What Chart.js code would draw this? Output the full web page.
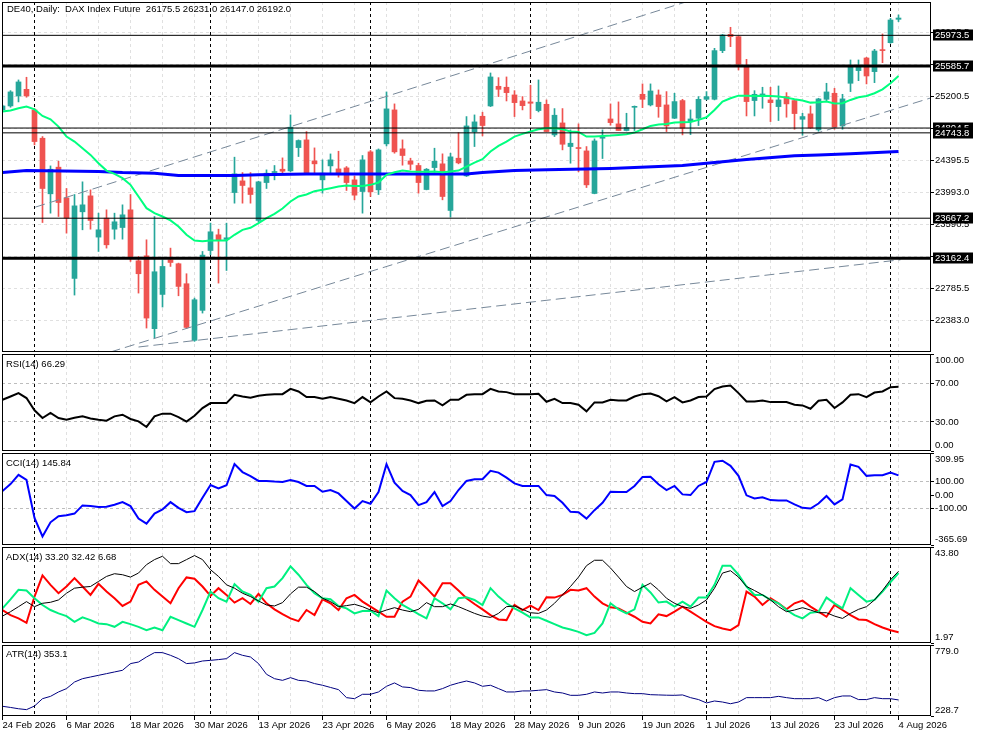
<!DOCTYPE html>
<html>
<head>
<meta charset="utf-8">
<title>DE40 Daily</title>
<script src="https://cdn.jsdelivr.net/npm/chart.js@4.4.1/dist/chart.umd.min.js"></script>
<style>
  html, body { margin: 0; padding: 0; background: #fff; }
  body { position: relative; width: 983px; height: 737px; overflow: hidden; }
  canvas { position: absolute; left: 0; }
  .cap { position: absolute; left: 6px; font: 9.5px "Liberation Sans", Arial, sans-serif; color: #000; white-space: pre; line-height: 12px; }
</style>
</head>
<body>
<canvas id="main" width="983" height="353" style="top:0px"></canvas>
<canvas id="rsi" width="983" height="99" style="top:353px"></canvas>
<canvas id="cci" width="983" height="94" style="top:452px"></canvas>
<canvas id="adx" width="983" height="98" style="top:546px"></canvas>
<canvas id="atr" width="983" height="93" style="top:644px"></canvas>
<div class="cap" style="left:7px;top:3px">DE40, Daily:  DAX Index Future  26175.5 26231.0 26147.0 26192.0</div>
<div class="cap" style="top:358px">RSI(14) 66.29</div>
<div class="cap" style="top:457px">CCI(14) 145.84</div>
<div class="cap" style="top:551px">ADX(14) 33.20 32.42 6.68</div>
<div class="cap" style="top:648px">ATR(14) 353.1</div>
<script>
// bar 0 = 24 Feb 2026, one bar per trading day, date label every 8 bars
const dateLabels = ['24 Feb 2026', '6 Mar 2026', '18 Mar 2026', '30 Mar 2026', '13 Apr 2026',
  '23 Apr 2026', '6 May 2026', '18 May 2026', '28 May 2026', '9 Jun 2026', '19 Jun 2026',
  '1 Jul 2026', '13 Jul 2026', '23 Jul 2026', '4 Aug 2026'];
const labelEvery = 8;
const gridEvery = 4;
const monthStarts = [4, 26, 46, 66, 88, 111];

const opens = [25033, 25083, 25209, 25293, 25033, 24676, 23975, 24311, 23924, 22908,
  23748, 23949, 23429, 23668, 23529, 23550, 23773, 23130, 23193, 22274,
  22706, 23143, 23093, 22841, 22127, 22505, 23260, 23458, 23400, 23991,
  24138, 24050, 23639, 24117, 24243, 24285, 24264, 24558, 24655, 24390,
  24151, 24327, 24289, 24302, 24151, 24004, 24504, 24025, 24605, 25033,
  24542, 24390, 24332, 24029, 24306, 24353, 23765, 24424, 24201, 24756,
  24953, 25083, 25331, 25319, 25222, 25146, 25134, 25025, 25104, 24718,
  24869, 24571, 24558, 24516, 23979, 24676, 24919, 24857, 24773, 25066,
  25230, 25096, 25222, 25096, 24928, 25151, 24886, 24928, 25167, 25167,
  25781, 25986, 25957, 25579, 25151, 25222, 25159, 25075, 25201, 25151,
  24915, 24983, 24781, 25167, 25243, 24831, 25369, 25529, 25688, 25516,
  25789, 25881, 26175.5];
const highs = [25095, 25276, 25411, 25445, 25050, 24697, 24327, 24386, 24042, 23966,
  24126, 24025, 23731, 23773, 23731, 23836, 23966, 23185, 23395, 23689,
  23143, 23290, 23101, 22967, 22660, 23248, 23605, 23529, 23605, 24437,
  24243, 24243, 24134, 24277, 24332, 24428, 24970, 24655, 24760, 24554,
  24403, 24478, 24512, 24319, 24201, 24458, 24521, 24541, 25260, 25109,
  24655, 24424, 24361, 24294, 24550, 24479, 24487, 24747, 24949, 24970,
  25004, 25499, 25440, 25449, 25276, 25201, 25344, 25411, 25159, 25050,
  25050, 24781, 24857, 24571, 24668, 24781, 25109, 25134, 24991, 25083,
  25361, 25361, 25285, 25264, 25243, 25167, 25033, 25201, 25264, 25810,
  25986, 26075, 25965, 25671, 25276, 25319, 25319, 25335, 25251, 25159,
  24991, 25083, 25180, 25369, 25306, 25230, 25663, 25663, 25697, 25797,
  25991, 26188, 26231];
const lows = [25010, 25067, 25134, 25193, 24592, 23613, 23731, 23689, 23479, 22698,
  23521, 23529, 23248, 23290, 23403, 23403, 23122, 22723, 22282, 22156,
  22547, 23059, 22689, 22274, 22114, 22471, 23206, 22849, 23008, 23857,
  23857, 23857, 23622, 24042, 24151, 24235, 24256, 24445, 24227, 24235,
  23983, 24235, 24185, 24017, 23899, 23731, 23941, 23966, 24579, 24487,
  24336, 24277, 23983, 24025, 24247, 23899, 23681, 24353, 24193, 24571,
  24705, 25075, 25201, 25146, 24949, 25033, 24924, 25008, 24756, 24697,
  24529, 24361, 24252, 24054, 23975, 24420, 24840, 24773, 24768, 24773,
  25062, 25083, 24940, 24760, 24924, 24718, 24722, 24836, 25159, 25159,
  25755, 25831, 25537, 24957, 24957, 25054, 24886, 24899, 24941, 24789,
  24714, 24798, 24764, 25138, 24789, 24789, 25264, 25402, 25361, 25377,
  25629, 25873, 26147];
const closes = [25083, 25260, 25386, 25209, 24634, 24042, 24285, 23865, 23668, 23823,
  23836, 23639, 23521, 23332, 23622, 23710, 23164, 22967, 22408, 22992,
  23059, 23109, 22807, 22290, 22639, 23202, 23496, 23395, 23420, 24227,
  24080, 23966, 24126, 24235, 24256, 24260, 24815, 24647, 24235, 24353,
  24235, 24403, 24235, 24117, 23958, 24403, 24000, 24529, 25046, 24504,
  24458, 24348, 24117, 24285, 24386, 23941, 24441, 24365, 24831, 24882,
  24836, 25449, 25293, 25251, 25125, 25087, 25117, 25130, 24760, 24966,
  24600, 24613, 24546, 24088, 24642, 24689, 24873, 24773, 24810, 25075,
  25167, 25272, 25075, 24831, 25138, 24802, 24919, 25167, 25201, 25781,
  25978, 25957, 25608, 25138, 25230, 25230, 25125, 25159, 25109, 24987,
  24949, 24806, 25172, 25260, 24815, 25172, 25587, 25579, 25461, 25776,
  25781, 26167, 26192];

// green moving average, one value per bar
const maFast = [25012, 25025, 25054, 25075, 25041, 24957, 24915, 24823, 24697, 24634,
  24550, 24466, 24361, 24268, 24226, 24172, 24088, 23941, 23794, 23731,
  23689, 23639, 23563, 23458, 23386, 23378, 23386, 23386, 23386, 23458,
  23521, 23546, 23605, 23668, 23723, 23790, 23878, 23941, 23966, 24008,
  24025, 24046, 24067, 24079, 24075, 24075, 24088, 24117, 24214, 24247,
  24268, 24256, 24252, 24252, 24256, 24247, 24256, 24268, 24319, 24369,
  24411, 24508, 24579, 24634, 24697, 24731, 24760, 24789, 24802, 24802,
  24789, 24760, 24756, 24697, 24697, 24705, 24710, 24718, 24726, 24747,
  24789, 24831, 24850, 24856, 24873, 24877, 24881, 24907, 24940, 25033,
  25138, 25180, 25213, 25213, 25209, 25213, 25209, 25201, 25188, 25167,
  25151, 25125, 25130, 25138, 25113, 25117, 25159, 25192, 25209, 25243,
  25293, 25369, 25461];
// blue moving average, read as [bar, price]
const maSlow = [[0, 24243], [3, 24268], [12, 24256], [15, 24243], [19, 24235], [22, 24205],
  [29, 24205], [32, 24214], [38, 24226], [47, 24226], [58, 24226], [60, 24243], [64, 24268],
  [68, 24277], [76, 24294], [82, 24319], [85, 24331], [89, 24369], [93, 24407], [99, 24455],
  [102, 24466], [106, 24479], [112, 24508]];

const levels = [25973.5, 25585.7, 24804.5, 24743.8, 23667.2, 23162.4];
const levelWidths = [1, 3, 1, 1, 1, 3];
// grey dashed trend lines, [bar, price] end points
const channels = [
  [[4.1, 23807], [85.4, 26394]],
  [[13.5, 21980], [116.06, 25185]],
  [[17, 22043], [112.25, 23143]]
];
const priceTicks = [26005.5, 25603.0, 25200.5, 24798.0, 24395.5, 23993.0, 23590.5, 23188.0, 22785.5, 22383.0];

const rsi = [52.8, 56.2, 59.7, 54.6, 42, 34, 39.2, 34, 32.3, 34.3,
  35.7, 33.6, 32.3, 31.3, 35.7, 37.4, 33, 30.6, 24.8, 35.7,
  38.5, 38.5, 35, 30.3, 36.4, 44.3, 49.4, 49.4, 49.4, 58,
  56.2, 54.9, 57, 58, 58.6, 58.6, 64.1, 61.4, 55.6, 55.6,
  53.8, 55.6, 53.8, 52.1, 49.4, 55.6, 50.1, 56.2, 61.4, 54.5,
  53.8, 52.1, 49.4, 51.8, 52.1, 47, 52.8, 52.8, 57.9, 58.6,
  58.6, 64.1, 61.4, 60.7, 58.6, 58.6, 58.6, 59, 50.8, 53.8,
  49.4, 49.4, 47.7, 40.9, 50.1, 50.1, 52.8, 52.1, 52.1, 56.2,
  58.6, 59.3, 56.5, 51.1, 55.6, 50.1, 52.1, 55.6, 56.2, 63.8,
  66.5, 67.5, 59.7, 51.1, 51.1, 52.1, 50.4, 50.4, 50.4, 47.7,
  47, 43.6, 51.8, 52.8, 44.3, 50.1, 57.9, 58.6, 55.6, 60.3,
  61.4, 65.8, 66.29];
const rsiTicks = [100, 70, 30, 0];
const rsiLevels = [70, 30];

const cci = [30.6, 82, 149, 112, -167, -303, -199, -155, -147, -135,
  -75, -80, -87, -85, -70, -51, -80, -172, -209, -135,
  -105, -51, -93, -125, -117, -19, 75, 50, 73, 228,
  170, 140, 105, 105, 100, 97, 112, 97, 68, 68,
  25, 38, 13, -43, -98, -43, -63, 23, 228, 92,
  31, 1, -73, -51, 23, -80, -43, 38, 105, 117,
  117, 179, 166, 129, 87, 68, 68, 68, 1, -6,
  -56, -122, -125, -172, -110, -56, 26, 23, 23, 68,
  134, 136, 80, 38, 68, 6, 1, 68, 97, 245,
  253, 216, 142, -1, -24, -16, -36, -38, -38, -68,
  -93, -98, -61, -6, -68, -31, 226, 208, 142, 147,
  147, 166, 145.84];
const cciTicks = [309.95, 100, 0, -100, -365.69];
const cciLevels = [100, -100];

const adx = [13.7, 15.61, 17.8, 20, 17.8, 19.27, 19.71, 20.73, 23.66, 25.86,
  26.3, 26.59, 28.79, 30.98, 32.16, 31.72, 30.69, 32.45, 36.11, 38.31,
  39.77, 36.55, 36.55, 38.31, 40.07, 38.31, 33.91, 30.98, 27.32, 25.86,
  23.66, 22.2, 20.3, 18.54, 18.1, 19.56, 23.37, 26.3, 26.3, 24.39,
  21.47, 20, 17.8, 18.25, 18.83, 17.8, 16.34, 15.17, 16.34, 17.36,
  16.34, 15.61, 16.63, 19.56, 17.8, 17.8, 18.98, 17.8, 16.34, 14.88,
  13.7, 13.12, 14.88, 17.8, 18.1, 16.63, 15.17, 14.88, 16.34, 19.27,
  22.93, 26.59, 30.69, 35.67, 38.02, 38.02, 34.64, 30.69, 26.59, 24.39,
  26.3, 28.05, 25.1, 21.47, 19.27, 17.8, 17.07, 18.54, 20.73, 25.86,
  32.45, 33.47, 30.69, 26.59, 24.83, 22.93, 20.73, 17.8, 15.61, 16.34,
  17.36, 16.34, 15.17, 15.17, 13.7, 12.68, 14.88, 16.63, 17.8, 20.73,
  24.83, 29.52, 33.2];
const plusDi = [17.07, 21, 25.13, 24.83, 21.47, 18.54, 16.34, 14.88, 13.7, 11.21,
  13.12, 11.95, 10.48, 10.19, 9.02, 11.21, 10.19, 9.02, 7.55, 8.72,
  7.55, 13.41, 11.95, 10.48, 9.02, 16.34, 24.39, 21.47, 20, 27.62,
  24.39, 22.93, 20, 25.86, 26.59, 30.25, 35.38, 31.72, 27.32, 23.66,
  21.47, 21.03, 18.1, 17.07, 14.88, 15.9, 16.05, 13.7, 24.83, 21.47,
  18.54, 16.63, 14.58, 12.68, 21.47, 19.27, 16.63, 21.47, 21.9, 20.73,
  18.54, 25.86, 22.2, 19.27, 17.07, 15.17, 13.12, 13.12, 11.66, 10.19,
  8.72, 7.84, 6.82, 5.35, 6.38, 10.48, 19.27, 16.63, 14.88, 16.63,
  27.32, 24, 19.6, 20, 17.8, 20, 17.8, 21.76, 21.76, 27.32,
  35.67, 35.67, 31.72, 26.59, 22.93, 22.93, 20.73, 19.27, 16.34, 14.14,
  12.68, 15.17, 15.61, 21.76, 19.27, 17.07, 25.86, 22.93, 20, 20.73,
  24.39, 28.5, 32.42];
const minusDi = [16.34, 14.14, 12.68, 10.77, 22.2, 31.42, 27.32, 23.66, 26.59, 30.25,
  26.59, 22.93, 27.76, 24.39, 21.47, 18.1, 20, 27.32, 28.79, 25.13,
  22.2, 19.27, 25.86, 30.55, 29.96, 26.59, 22.49, 25.86, 22.93, 19.56,
  21.47, 18.98, 23.37, 19.27, 16.63, 14.58, 12.68, 11.51, 16.34, 14.14,
  21.03, 19.27, 16.34, 21.47, 22.93, 20, 17.8, 15.61, 13.41, 13.41,
  20, 22.2, 29.23, 25.86, 22.2, 28.05, 28.05, 24.83, 21.47, 18.98,
  16.63, 14.14, 12.24, 11.95, 18.54, 16.34, 18.25, 16.34, 21.9, 21.76,
  22.93, 25.13, 24.83, 25.86, 22.2, 19.27, 17.51, 17.07, 15.17, 13.41,
  11.21, 10.48, 14.5, 13.7, 15.61, 17.8, 15.61, 13.41, 11.21, 9.31,
  8.28, 7.55, 9.75, 24.39, 22.2, 18.54, 21.47, 19.27, 16.63, 19.27,
  20.44, 17.8, 15.61, 13.41, 18.54, 16.34, 14.14, 12.24, 11.95, 10.19,
  8.72, 7.55, 6.68];
const adxTicks = [43.80, 1.97];

const atr = [304, 295, 285, 278, 306, 363, 381, 415, 441, 492,
  518, 531, 544, 557, 570, 583, 635, 647, 686, 720,
  720, 699, 673, 635, 640, 655, 660, 666, 673, 720,
  699, 686, 635, 552, 518, 505, 526, 505, 500, 480,
  467, 450, 433, 371, 363, 397, 397, 415, 459, 485,
  454, 449, 428, 423, 423, 441, 467, 485, 500, 485,
  459, 467, 441, 415, 415, 423, 423, 428, 433, 415,
  407, 389, 389, 397, 415, 407, 415, 415, 407, 402,
  402, 394, 392, 390, 389, 392, 371, 356, 330, 345,
  337, 324, 337, 371, 371, 371, 371, 381, 371, 363,
  363, 363, 371, 345, 371, 384, 384, 356, 356, 371,
  363, 363, 353.1];
const atrTicks = [779.0, 228.7];

// scale ranges
const X_MIN = -0.0625, X_MAX = 116.0625;
const UP = '#26a69a', DOWN = '#ef5350';
const FONT = { family: '"Liberation Sans", Arial, sans-serif', size: 9.5 };

const pts = arr => arr.map((v, i) => ({ x: i, y: v }));
const pairs = arr => arr.map(p => ({ x: p[0], y: p[1] }));

function lineSet(data, color, width, order, dash) {
  return {
    type: 'line', data: data, borderColor: color, borderWidth: width,
    borderDash: dash || [], pointRadius: 0, fill: false, tension: 0, order: order
  };
}

function xAxis(withDates) {
  return {
    type: 'linear', min: X_MIN, max: X_MAX, offset: false,
    grid: {
      offset: false, color: '#e0e0e0', drawTicks: withDates, tickLength: 4,
      tickColor: c => (c.tick && c.tick.value % labelEvery === 0) ? '#000' : 'rgba(0,0,0,0)'
    },
    border: { display: false, dash: [3, 3] },
    ticks: {
      display: withDates, autoSkip: false, maxRotation: 0, minRotation: 0, align: 'start',
      padding: 0, color: '#000', font: FONT,
      callback: v => (v % labelEvery === 0 && dateLabels[v / labelEvery]) ? dateLabels[v / labelEvery] : ''
    },
    afterBuildTicks: s => {
      const t = [];
      for (let v = 0; v <= X_MAX; v += gridEvery) t.push({ value: v });
      s.ticks = t;
    },
    afterFit: s => { s.height = withDates ? 21 : 0; s.paddingLeft = 0; s.paddingRight = 0; }
  };
}

function yAxis(min, max, ticks, digits, gridColor) {
  return {
    type: 'linear', position: 'right', min: min, max: max,
    grid: { color: gridColor, drawTicks: true, tickLength: 3, tickColor: '#000' },
    border: { display: false, dash: [3, 3] },
    ticks: { color: '#000', font: FONT, padding: 1, autoSkip: false, callback: v => v.toFixed(digits) },
    afterBuildTicks: s => { s.ticks = ticks.map(v => ({ value: v })); },
    afterFit: s => { s.width = 52; s.paddingTop = 0; s.paddingBottom = 0; }
  };
}

const levelGrid = list => c => (c.tick && list.indexOf(c.tick.value) >= 0) ? '#bdbdbd' : 'rgba(0,0,0,0)';

// pane border + month separators
const paneFrame = {
  id: 'paneFrame',
  beforeDatasetsDraw(chart) {
    const { ctx, chartArea: a, scales: { x } } = chart;
    ctx.save();
    ctx.strokeStyle = '#000';
    ctx.lineWidth = 1;
    ctx.setLineDash([3, 3]);
    monthStarts.forEach(i => {
      const px = Math.floor(x.getPixelForValue(i)) + 0.5;
      ctx.beginPath();
      ctx.moveTo(px, a.top);
      ctx.lineTo(px, a.bottom);
      ctx.stroke();
    });
    ctx.restore();
  },
  afterDraw(chart) {
    const { ctx, chartArea: a } = chart;
    ctx.save();
    ctx.strokeStyle = '#000';
    ctx.lineWidth = 1;
    ctx.strokeRect(a.left + 0.5, a.top + 0.5, a.right - a.left - 1, a.bottom - a.top - 1);
    ctx.restore();
  }
};

// keep top/bottom axis labels inside the pane like the terminal does
const edgeTicks = {
  id: 'edgeTicks',
  beforeDraw(chart) {
    const s = chart.scales.y, a = chart.chartArea;
    if (!s || typeof s.getLabelItems !== 'function') return;
    s.getLabelItems(a).forEach(item => {
      const t = item.options && item.options.translation;
      if (t) t[1] = Math.min(Math.max(t[1], a.top + 6), a.bottom - 6);
    });
  }
};

// black price tags for the horizontal lines
const levelTags = {
  id: 'levelTags',
  afterDraw(chart) {
    const { ctx, chartArea: a, scales: { y } } = chart;
    ctx.save();
    ctx.font = '9.5px "Liberation Sans", Arial, sans-serif';
    ctx.textBaseline = 'middle';
    levels.forEach(v => {
      const py = y.getPixelForValue(v);
      ctx.fillStyle = '#000';
      ctx.fillRect(a.right + 2, Math.round(py) - 5.5, 40, 11);
      ctx.fillStyle = '#fff';
      ctx.fillText(v.toFixed(1), a.right + 4, py + 0.5);
    });
    ctx.restore();
  }
};

const baseOptions = (padTop, padBottom) => ({
  responsive: false, animation: false, devicePixelRatio: 1, events: [],
  layout: { autoPadding: false, padding: { left: 2, top: padTop, right: 0, bottom: padBottom } },
  plugins: { legend: { display: false }, tooltip: { enabled: false } }
});

// main price pane
const bars = closes.map((c, i) => i);
const candleColor = c => closes[c.dataIndex] >= opens[c.dataIndex] ? UP : DOWN;
const mainSets = [];
levels.forEach((v, k) => mainSets.push(lineSet([{ x: X_MIN, y: v }, { x: X_MAX, y: v }], '#000', levelWidths[k], 0)));
mainSets.push(lineSet(pts(maFast), '#00ff7f', 2, 1));
mainSets.push(lineSet(pairs(maSlow), '#0000ff', 3, 1));
channels.forEach(seg => mainSets.push(lineSet(pairs(seg), '#778899', 1, 2, [10, 5])));
mainSets.push({
  type: 'bar', data: bars.map(i => ({ x: i, y: [opens[i], closes[i]] })),
  backgroundColor: candleColor, borderWidth: 0, barThickness: 5, minBarLength: 1, grouped: false, order: 3
});
mainSets.push({
  type: 'bar', data: bars.map(i => ({ x: i, y: [lows[i], highs[i]] })),
  backgroundColor: candleColor, borderWidth: 0, barThickness: 1, grouped: false, order: 4
});

const mainOpts = baseOptions(2, 1);
mainOpts.scales = { x: xAxis(false), y: yAxis(21980, 26394, priceTicks, 1, () => '#e0e0e0') };
new Chart(document.getElementById('main'), {
  type: 'bar',
  data: { datasets: mainSets },
  options: mainOpts,
  plugins: [paneFrame, levelTags]
});

// indicator panes
function pane(id, sets, yMin, yMax, ticks, digits, gridColor, withDates) {
  const opts = baseOptions(1, withDates ? 0 : 1);
  opts.scales = { x: xAxis(withDates), y: yAxis(yMin, yMax, ticks, digits, gridColor) };
  return new Chart(document.getElementById(id), {
    type: 'line',
    data: { datasets: sets },
    options: opts,
    plugins: [paneFrame, edgeTicks]
  });
}

pane('rsi', [lineSet(pts(rsi), '#000', 2, 0)], 0, 100, rsiTicks, 2, levelGrid(rsiLevels), false);
pane('cci', [lineSet(pts(cci), '#0000ff', 2, 0)], -365.69, 309.95, cciTicks, 2, levelGrid(cciLevels), false);
pane('adx', [
  lineSet(pts(adx), '#000', 1, 0),
  lineSet(pts(plusDi), '#00f080', 2, 1),
  lineSet(pts(minusDi), '#ff0000', 2, 2)
], 1.97, 43.80, adxTicks, 2, () => 'rgba(0,0,0,0)', false);
pane('atr', [lineSet(pts(atr), '#000080', 1, 0)], 228.7, 779.0, atrTicks, 1, () => 'rgba(0,0,0,0)', true);
</script>
</body>
</html>
